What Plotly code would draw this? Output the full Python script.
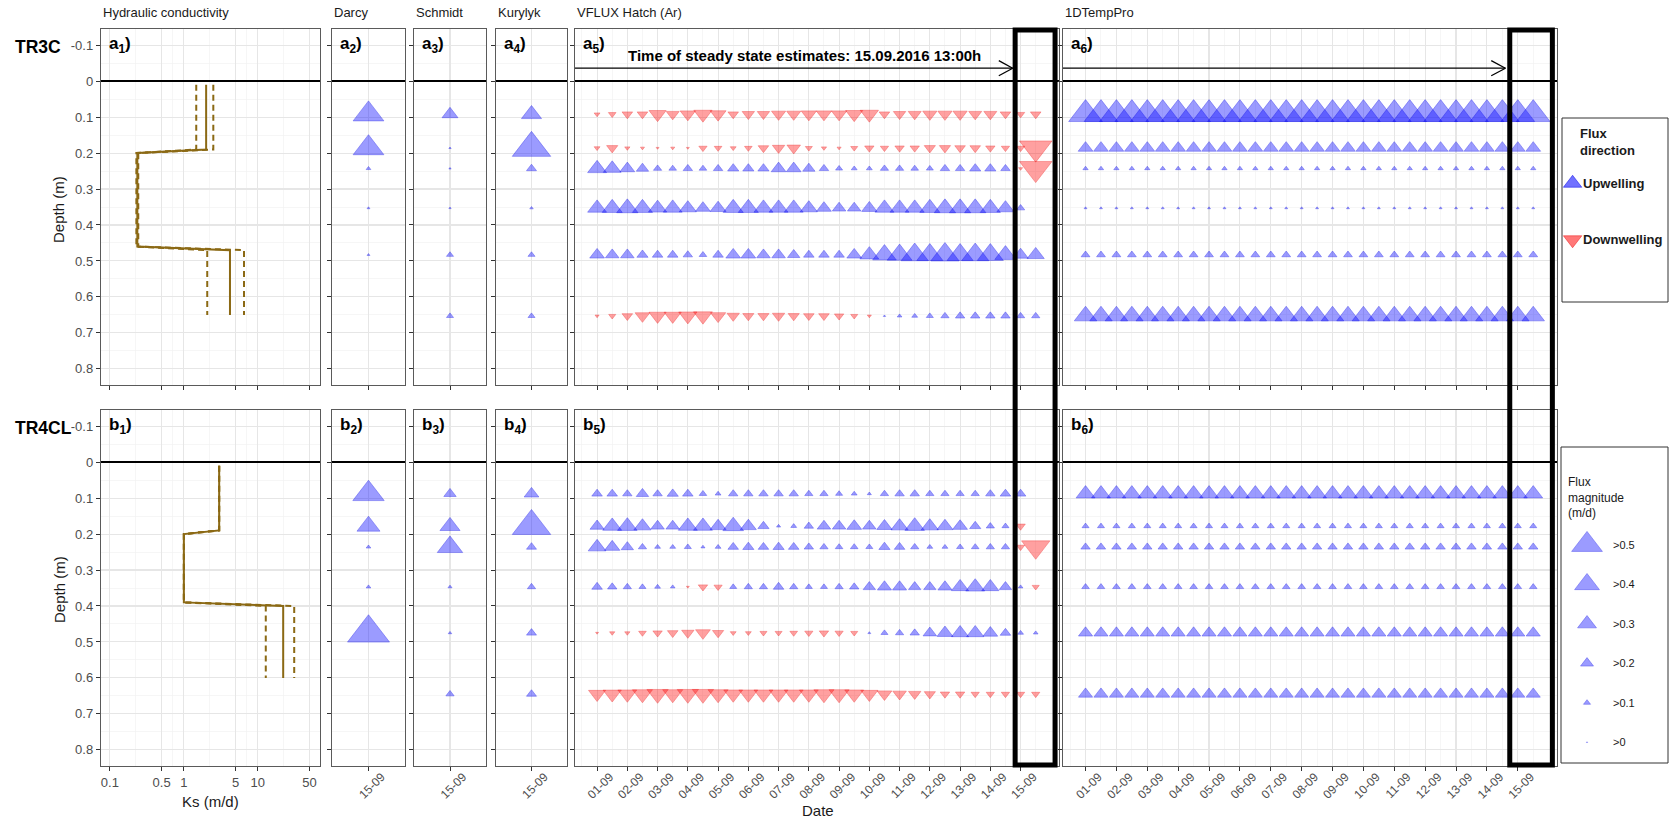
import plotly.graph_objects as go

W, H = 1669, 821
FONT = "Arial, Liberation Sans, sans-serif"

# ------------------------------------------------------------------ data
times = [1.0, 1.5, 2.0, 2.5, 3.0, 3.5, 4.0, 4.5, 5.0, 5.5, 6.0, 6.5, 7.0, 7.5, 8.0,
         8.5, 9.0, 9.5, 10.0, 10.5, 11.0, 11.5, 12.0, 12.5, 13.0, 13.5, 14.0, 14.5, 15.0, 15.5]
date_ticks = [1, 2, 3, 4, 5, 6, 7, 8, 9, 10, 11, 12, 13, 14, 15]
date_labels = ["01-09", "02-09", "03-09", "04-09", "05-09", "06-09", "07-09", "08-09",
               "09-09", "10-09", "11-09", "12-09", "13-09", "14-09", "15-09"]
single_time = [1]
single_label = ["15-09"]

depth_ticks = [-0.1, 0, 0.1, 0.2, 0.3, 0.4, 0.5, 0.6, 0.7, 0.8]
depth_labels = ["-0.1", "0", "0.1", "0.2", "0.3", "0.4", "0.5", "0.6", "0.7", "0.8"]
ks_ticks = [0.1, 0.5, 1, 5, 10, 50]
ks_labels = ["0.1", "0.5", "1", "5", "10", "50"]

# sensor depths (m)
depth_tr3c = [0.092, 0.186, 0.243, 0.353, 0.483, 0.653]
depth_tr4cl = [0.088, 0.178, 0.236, 0.347, 0.475, 0.645]

# hydraulic conductivity profiles (m/d)
ks_depth_tr3c = [0.01, 0.19, 0.20, 0.46, 0.47, 0.65]
ks_tr3c = [2.0, 2.0, 0.235, 0.235, 4.2, 4.2]
ks_tr3c_lo = [1.47, 1.47, 0.228, 0.228, 2.07, 2.07]
ks_tr3c_hi = [2.5, 2.5, 0.242, 0.242, 6.5, 6.5]
ks_depth_tr4cl = [0.01, 0.19, 0.20, 0.39, 0.40, 0.60]
ks_tr4cl = [3.0, 3.0, 1.0, 1.0, 22.0, 22.0]
ks_tr4cl_lo = [3.0, 3.0, 1.0, 1.0, 12.8, 12.8]
ks_tr4cl_hi = [3.0, 3.0, 1.0, 1.0, 31.0, 31.0]

# steady-state flux estimates (m/d, + upwelling, - downwelling), one per sensor depth
darcy_tr3c = [0.50, 0.50, 0.06, 0.03, 0.03, None]
schmidt_tr3c = [0.25, 0.02, 0.02, 0.02, 0.10, 0.10]
kurylyk_tr3c = [0.32, 0.63, 0.15, 0.04, 0.10, 0.10]
darcy_tr4cl = [0.51, 0.37, 0.06, 0.06, 0.69, None]
schmidt_tr4cl = [0.19, 0.32, 0.41, 0.05, 0.04, 0.12]
kurylyk_tr4cl = [0.23, 0.63, 0.15, 0.12, 0.15, 0.15]

# VFLUX Hatch (Ar) time series, TR3C
vflux_tr3c_1 = [-0.08, -0.11, -0.16, -0.16, -0.27, -0.20, -0.24, -0.29, -0.25, -0.16, -0.19, -0.19, -0.22, -0.22, -0.24,
                -0.24, -0.24, -0.27, -0.29, -0.16, -0.19, -0.20, -0.22, -0.22, -0.22, -0.20, -0.20, -0.16, -0.12, -0.16]
vflux_tr3c_2 = [-0.08, -0.17, -0.07, -0.05, -0.03, -0.05, -0.03, -0.12, -0.11, -0.08, -0.11, -0.16, -0.19, -0.21, -0.10,
                -0.07, -0.05, -0.10, -0.14, -0.12, -0.14, -0.14, -0.17, -0.17, -0.16, -0.16, -0.14, -0.12, -0.12, -0.53]
vflux_tr3c_3 = [0.30, 0.28, 0.23, 0.19, 0.12, 0.11, 0.14, 0.11, 0.14, 0.17, 0.17, 0.17, 0.23, 0.23, 0.19,
                0.14, 0.10, 0.08, 0.08, 0.12, 0.12, 0.11, 0.10, 0.14, 0.14, 0.17, 0.17, 0.14, -0.05, -0.53]
vflux_tr3c_4 = [0.30, 0.32, 0.34, 0.32, 0.29, 0.30, 0.27, 0.23, 0.25, 0.32, 0.32, 0.30, 0.30, 0.30, 0.27,
                0.23, 0.21, 0.21, 0.24, 0.30, 0.30, 0.30, 0.32, 0.34, 0.34, 0.34, 0.32, 0.27, 0.12, None]
vflux_tr3c_5 = [0.23, 0.21, 0.21, 0.17, 0.16, 0.16, 0.14, 0.11, 0.16, 0.23, 0.23, 0.21, 0.21, 0.19, 0.16,
                0.16, 0.16, 0.23, 0.30, 0.38, 0.40, 0.44, 0.42, 0.46, 0.42, 0.44, 0.42, 0.34, 0.24, 0.27]
vflux_tr3c_6 = [-0.05, -0.10, -0.16, -0.23, -0.27, -0.27, -0.29, -0.30, -0.24, -0.19, -0.17, -0.17, -0.19, -0.17, -0.16,
                -0.16, -0.14, -0.10, -0.05, 0.02, 0.06, 0.08, 0.10, 0.12, 0.14, 0.14, 0.14, 0.14, 0.12, 0.12]

# VFLUX Hatch (Ar) time series, TR4CL
vflux_tr4cl_1 = [0.16, 0.16, 0.14, 0.19, 0.14, 0.17, 0.16, 0.11, 0.08, 0.14, 0.14, 0.14, 0.14, 0.14, 0.12,
                 0.12, 0.10, 0.08, 0.05, 0.12, 0.14, 0.14, 0.12, 0.12, 0.12, 0.12, 0.14, 0.16, 0.16, None]
vflux_tr4cl_2 = [0.22, 0.30, 0.31, 0.27, 0.21, 0.21, 0.30, 0.30, 0.25, 0.33, 0.25, 0.17, 0.05, 0.08, 0.14,
                 0.21, 0.21, 0.23, 0.21, 0.24, 0.27, 0.31, 0.27, 0.25, 0.23, 0.17, 0.12, 0.10, -0.14, None]
vflux_tr4cl_3 = [0.28, 0.24, 0.19, 0.12, 0.08, 0.08, 0.10, 0.05, 0.08, 0.16, 0.17, 0.16, 0.17, 0.16, 0.14,
                 0.12, 0.11, 0.11, 0.10, 0.17, 0.16, 0.12, 0.08, 0.08, 0.10, 0.11, 0.12, 0.12, -0.12, -0.46]
vflux_tr4cl_4 = [0.16, 0.14, 0.12, 0.10, 0.08, 0.06, -0.03, -0.14, -0.12, 0.10, 0.12, 0.12, 0.16, 0.12, 0.10,
                 0.10, 0.12, 0.14, 0.19, 0.22, 0.22, 0.19, 0.19, 0.22, 0.27, 0.30, 0.27, 0.19, 0.06, -0.10]
vflux_tr4cl_5 = [-0.03, -0.07, -0.07, -0.11, -0.14, -0.16, -0.19, -0.23, -0.17, -0.08, -0.08, -0.10, -0.10, -0.11, -0.12,
                 -0.14, -0.12, -0.10, 0.03, 0.10, 0.12, 0.14, 0.21, 0.25, 0.27, 0.27, 0.23, 0.16, 0.08, 0.06]
vflux_tr4cl_6 = [-0.27, -0.29, -0.30, -0.32, -0.34, -0.32, -0.34, -0.34, -0.32, -0.30, -0.30, -0.30, -0.30, -0.30, -0.30,
                 -0.32, -0.32, -0.30, -0.27, -0.23, -0.21, -0.19, -0.17, -0.14, -0.14, -0.12, -0.12, -0.12, -0.12, -0.12]

# 1DTempPro time series, TR3C
temppro_tr3c_1 = [0.55, 0.55, 0.55, 0.55, 0.55, 0.55, 0.55, 0.55, 0.55, 0.55, 0.55, 0.55, 0.55, 0.55, 0.55,
                  0.55, 0.55, 0.55, 0.55, 0.55, 0.55, 0.55, 0.55, 0.55, 0.55, 0.55, 0.55, 0.55, 0.55, 0.55]
temppro_tr3c_2 = [0.23, 0.23, 0.23, 0.23, 0.23, 0.23, 0.23, 0.23, 0.23, 0.23, 0.23, 0.23, 0.23, 0.23, 0.23,
                  0.23, 0.23, 0.23, 0.23, 0.23, 0.23, 0.23, 0.23, 0.23, 0.23, 0.23, 0.23, 0.23, 0.23, 0.23]
temppro_tr3c_3 = [0.07, 0.07, 0.07, 0.07, 0.07, 0.07, 0.07, 0.07, 0.07, 0.07, 0.07, 0.07, 0.07, 0.07, 0.07,
                  0.07, 0.07, 0.07, 0.07, 0.07, 0.07, 0.07, 0.07, 0.07, 0.07, 0.07, 0.07, 0.07, 0.07, 0.07]
temppro_tr3c_4 = [0.03, 0.03, 0.03, 0.03, 0.03, 0.03, 0.03, 0.03, 0.03, 0.03, 0.03, 0.03, 0.03, 0.03, 0.03,
                  0.03, 0.03, 0.03, 0.03, 0.03, 0.03, 0.03, 0.03, 0.03, 0.03, 0.03, 0.03, 0.03, 0.03, 0.03]
temppro_tr3c_5 = [0.13, 0.13, 0.13, 0.13, 0.13, 0.13, 0.13, 0.13, 0.13, 0.13, 0.13, 0.13, 0.13, 0.13, 0.13,
                  0.13, 0.13, 0.13, 0.13, 0.13, 0.13, 0.13, 0.13, 0.13, 0.13, 0.13, 0.13, 0.13, 0.13, 0.13]
temppro_tr3c_6 = [0.36, 0.36, 0.36, 0.36, 0.36, 0.36, 0.36, 0.36, 0.36, 0.36, 0.36, 0.36, 0.36, 0.36, 0.36,
                  0.36, 0.36, 0.36, 0.36, 0.36, 0.36, 0.36, 0.36, 0.36, 0.36, 0.36, 0.36, 0.36, 0.36, 0.36]

# 1DTempPro time series, TR4CL
temppro_tr4cl_1 = [0.30, 0.30, 0.30, 0.30, 0.30, 0.30, 0.30, 0.30, 0.30, 0.30, 0.30, 0.30, 0.30, 0.30, 0.30,
                   0.30, 0.30, 0.30, 0.30, 0.30, 0.30, 0.30, 0.30, 0.30, 0.30, 0.30, 0.30, 0.30, 0.30, 0.30]
temppro_tr4cl_2 = [0.10, 0.10, 0.10, 0.10, 0.10, 0.10, 0.10, 0.10, 0.10, 0.10, 0.10, 0.10, 0.10, 0.10, 0.10,
                   0.10, 0.10, 0.10, 0.10, 0.10, 0.10, 0.10, 0.10, 0.10, 0.10, 0.10, 0.10, 0.10, 0.10, 0.10]
temppro_tr4cl_3 = [0.14, 0.14, 0.14, 0.14, 0.14, 0.14, 0.14, 0.14, 0.14, 0.14, 0.14, 0.14, 0.14, 0.14, 0.14,
                   0.14, 0.14, 0.14, 0.14, 0.14, 0.14, 0.14, 0.14, 0.14, 0.14, 0.14, 0.14, 0.14, 0.14, 0.14]
temppro_tr4cl_4 = [0.11, 0.11, 0.11, 0.11, 0.11, 0.11, 0.11, 0.11, 0.11, 0.11, 0.11, 0.11, 0.11, 0.11, 0.11,
                   0.11, 0.11, 0.11, 0.11, 0.11, 0.11, 0.11, 0.11, 0.11, 0.11, 0.11, 0.11, 0.11, 0.11, 0.11]
temppro_tr4cl_5 = [0.22, 0.22, 0.22, 0.22, 0.22, 0.22, 0.22, 0.22, 0.22, 0.22, 0.22, 0.22, 0.22, 0.22, 0.22,
                   0.22, 0.22, 0.22, 0.22, 0.22, 0.22, 0.22, 0.22, 0.22, 0.22, 0.22, 0.22, 0.22, 0.22, 0.22]
temppro_tr4cl_6 = [0.22, 0.22, 0.22, 0.22, 0.22, 0.22, 0.22, 0.22, 0.22, 0.22, 0.22, 0.22, 0.22, 0.22, 0.22,
                   0.22, 0.22, 0.22, 0.22, 0.22, 0.22, 0.22, 0.22, 0.22, 0.22, 0.22, 0.22, 0.22, 0.22, 0.22]

dir_labels = ["Upwelling", "Downwelling"]
mag_breaks = [0.5, 0.4, 0.3, 0.2, 0.1, 0.0]
mag_labels = [">0.5", ">0.4", ">0.3", ">0.2", ">0.1", ">0"]

steady_time = 14.82     # left edge of the steady-state window (days of September)
steady_text = "Time of steady state estimates: 15.09.2016 13:00h"

# ------------------------------------------------------------------ styling
UP_FILL, UP_LINE = "rgba(10,10,255,0.58)", "rgba(0,0,230,0.6)"
DN_FILL, DN_LINE = "rgba(255,15,15,0.56)", "rgba(235,0,0,0.55)"
KS_COL = "#8B6914"
GRID, GRID_MINOR = "#E6E6E6", "#F2F2F2"
BORDER = "#5A5A5A"
TICKC = "#4D4D4D"


def tri_size(v):
    # equilateral-triangle width (px) grows linearly with |flux|
    return (1.0 + 52.0 * abs(v)) * 1.14 / 1.1547


COLS = [(101, 320), (332, 405), (414, 486), (496, 567), (575, 1059), (1063, 1557)]
ROWS = [(29, 385), (410, 766)]
Y_RANGE = [0.845, -0.145]
T_RANGE = [0.27, 16.27]

fig = go.Figure()
layout = dict(width=W, height=H, margin=dict(l=0, r=0, t=0, b=0),
              paper_bgcolor="white", plot_bgcolor="white", showlegend=False,
              font=dict(family=FONT, color="#1A1A1A"))


def ax_name(i, kind):
    return kind if i == 1 else f"{kind}{i}"


minor_depth = [-0.15, -0.05, 0.05, 0.15, 0.25, 0.35, 0.45, 0.55, 0.65, 0.75, 0.85]
minor_time = [0.5, 1.5, 2.5, 3.5, 4.5, 5.5, 6.5, 7.5, 8.5, 9.5, 10.5, 11.5, 12.5, 13.5, 14.5, 15.5]
minor_ks = [0.2236, 0.7071, 2.236, 7.071, 22.36]

for r, (y0, y1) in enumerate(ROWS):
    for c, (x0, x1) in enumerate(COLS):
        i = r * 6 + c + 1
        xa = dict(domain=[x0 / W, x1 / W], anchor=ax_name(i, "y"), showline=True, mirror=True,
                  linecolor=BORDER, linewidth=1.2, ticks="outside", ticklen=4, tickwidth=1,
                  tickcolor="#333333", showgrid=True, gridcolor=GRID, gridwidth=1.1, zeroline=False,
                  tickfont=dict(size=12, color=TICKC, family=FONT), showticklabels=(r == 1),
                  fixedrange=True)
        if c == 0:
            xa.update(type="log", range=[-1.12, 1.84], tickmode="array", tickvals=ks_ticks,
                      ticktext=ks_labels, tickangle=0, tickfont=dict(size=13, color=TICKC, family=FONT),
                      minor=dict(tickvals=minor_ks, showgrid=True, gridcolor=GRID_MINOR,
                                 gridwidth=0.7, ticks=""))
        elif c < 4:
            xa.update(range=[0.4, 1.6], tickmode="array", tickvals=single_time, ticktext=single_label,
                      tickangle=-45, ticklabelshift=13, ticklabelstandoff=-6)
        else:
            xa.update(range=T_RANGE, tickmode="array", tickvals=date_ticks, ticktext=date_labels,
                      tickangle=-45, ticklabelshift=13, ticklabelstandoff=-6,
                      minor=dict(tickvals=minor_time, showgrid=True, gridcolor=GRID_MINOR,
                                 gridwidth=0.7, ticks=""))
        ya = dict(domain=[1 - y1 / H, 1 - y0 / H], anchor=ax_name(i, "x"), range=Y_RANGE,
                  showline=True, mirror=True, linecolor=BORDER, linewidth=1.2,
                  ticks="outside", ticklen=4, tickwidth=1, tickcolor="#333333",
                  tickmode="array", tickvals=depth_ticks, ticktext=depth_labels,
                  showticklabels=(c == 0), tickfont=dict(size=13, color=TICKC, family=FONT),
                  showgrid=True, gridcolor=GRID, gridwidth=1.1,
                  zeroline=True, zerolinecolor="black", zerolinewidth=1.6, fixedrange=True,
                  minor=dict(tickvals=minor_depth, showgrid=True, gridcolor=GRID_MINOR,
                             gridwidth=0.7, ticks=""))
        layout["xaxis" if i == 1 else f"xaxis{i}"] = xa
        layout["yaxis" if i == 1 else f"yaxis{i}"] = ya


def add_flux(i, xs, depths, vals):
    for sign, sym, fill, line in ((1, "triangle-up", UP_FILL, UP_LINE),
                                  (-1, "triangle-down", DN_FILL, DN_LINE)):
        px, py, ps = [], [], []
        for x, d, v in zip(xs, depths, vals):
            if v is None:
                continue
            if (v >= 0) == (sign > 0):
                px.append(x)
                py.append(d)
                ps.append(tri_size(v))
        if px:
            fig.add_trace(go.Scatter(x=px, y=py, mode="markers", xaxis=ax_name(i, "x"),
                                     yaxis=ax_name(i, "y"), hoverinfo="skip",
                                     marker=dict(symbol=sym, size=ps, color=fill,
                                                 line=dict(color=line, width=0.8))))


def add_ks(i, depths, ks, lo, hi):
    for arr, dash in ((lo, "6px,4px"), (hi, "6px,4px"), (ks, "solid")):
        fig.add_trace(go.Scatter(x=arr, y=depths, mode="lines", xaxis=ax_name(i, "x"),
                                 yaxis=ax_name(i, "y"), hoverinfo="skip",
                                 line=dict(color=KS_COL, width=2, dash=dash)))


add_ks(1, ks_depth_tr3c, ks_tr3c, ks_tr3c_lo, ks_tr3c_hi)
add_ks(7, ks_depth_tr4cl, ks_tr4cl, ks_tr4cl_lo, ks_tr4cl_hi)

for i, vals, depths in ((2, darcy_tr3c, depth_tr3c), (3, schmidt_tr3c, depth_tr3c),
                        (4, kurylyk_tr3c, depth_tr3c), (8, darcy_tr4cl, depth_tr4cl),
                        (9, schmidt_tr4cl, depth_tr4cl), (10, kurylyk_tr4cl, depth_tr4cl)):
    add_flux(i, single_time * len(depths), depths, vals)

series = {
    5: (depth_tr3c, [vflux_tr3c_1, vflux_tr3c_2, vflux_tr3c_3, vflux_tr3c_4, vflux_tr3c_5, vflux_tr3c_6]),
    6: (depth_tr3c, [temppro_tr3c_1, temppro_tr3c_2, temppro_tr3c_3, temppro_tr3c_4, temppro_tr3c_5,
                     temppro_tr3c_6]),
    11: (depth_tr4cl, [vflux_tr4cl_1, vflux_tr4cl_2, vflux_tr4cl_3, vflux_tr4cl_4, vflux_tr4cl_5,
                       vflux_tr4cl_6]),
    12: (depth_tr4cl, [temppro_tr4cl_1, temppro_tr4cl_2, temppro_tr4cl_3, temppro_tr4cl_4, temppro_tr4cl_5,
                       temppro_tr4cl_6]),
}
for i, (depths, rows) in series.items():
    xs, ds, vs = [], [], []
    for d, row in zip(depths, rows):
        xs += times
        ds += [d] * len(row)
        vs += row
    add_flux(i, xs, ds, vs)

# ------------------------------------------------------------------ legends (own axes)
layout["xaxis13"] = dict(domain=[1562 / W, 1668 / W], range=[0, 1], visible=False, fixedrange=True,
                         anchor="y13")
layout["yaxis13"] = dict(domain=[1 - 268 / H, 1 - 155 / H], range=[1.5, -0.5], visible=False,
                         fixedrange=True, anchor="x13")
layout["xaxis14"] = dict(domain=[1562 / W, 1668 / W], range=[0, 1], visible=False, fixedrange=True,
                         anchor="y14")
layout["yaxis14"] = dict(domain=[1 - 762 / H, 1 - 525 / H], range=[5.5, -0.5], visible=False,
                         fixedrange=True, anchor="x14")

fig.add_trace(go.Scatter(x=[0.1], y=[0], xaxis="x13", yaxis="y13", mode="markers", hoverinfo="skip",
                         marker=dict(symbol="triangle-up", size=16, color=UP_FILL,
                                     line=dict(color=UP_LINE, width=0.8))))
fig.add_trace(go.Scatter(x=[0.1], y=[1], xaxis="x13", yaxis="y13", mode="markers", hoverinfo="skip",
                         marker=dict(symbol="triangle-down", size=16, color=DN_FILL,
                                     line=dict(color=DN_LINE, width=0.8))))
fig.add_trace(go.Scatter(x=[0.236] * len(mag_breaks), y=list(range(len(mag_breaks))), xaxis="x14",
                         yaxis="y14", mode="markers", hoverinfo="skip",
                         marker=dict(symbol="triangle-up", size=[tri_size(b) for b in mag_breaks],
                                     color=UP_FILL, line=dict(color=UP_LINE, width=0.8))))

ann = []
for k, lab in enumerate(dir_labels):
    ann.append(dict(x=1581 / W, y=1 - (183 + 57 * k) / H, xref="paper", yref="paper",
                    text=f"<b>{lab}</b>", showarrow=False, xanchor="left", yanchor="middle",
                    font=dict(size=13, color="#1A1A1A")))
for k, lab in enumerate(mag_labels):
    ann.append(dict(x=0.46, y=k, xref="x14", yref="y14", text=lab, showarrow=False,
                    xanchor="left", yanchor="middle", font=dict(size=11, color="#1A1A1A")))
ann.append(dict(x=1578 / W, y=1 - 124 / H, xref="paper", yref="paper", text="<b>Flux<br>direction</b>",
                showarrow=False, xanchor="left", yanchor="top", align="left",
                font=dict(size=13, color="#1A1A1A")))
ann.append(dict(x=1566 / W, y=1 - 473 / H, xref="paper", yref="paper", text="Flux<br>magnitude<br>(m/d)",
                showarrow=False, xanchor="left", yanchor="top", align="left",
                font=dict(size=12, color="#1A1A1A")))

# panel titles
for (x0, _), t in zip(COLS, ["Hydraulic conductivity", "Darcy", "Schmidt", "Kurylyk",
                             "VFLUX Hatch (Ar)", "1DTempPro"]):
    ann.append(dict(x=x0 / W, y=1 - 13 / H, xref="paper", yref="paper", text=t, showarrow=False,
                    xanchor="left", yanchor="middle", font=dict(size=13, color="#1A1A1A")))
# row labels
for y, t in ((47, "TR3C"), (428, "TR4CL")):
    ann.append(dict(x=13 / W, y=1 - y / H, xref="paper", yref="paper", text=f"<b>{t}</b>",
                    showarrow=False, xanchor="left", yanchor="middle",
                    font=dict(size=17.5, color="black")))
# panel letters
for r, letter in enumerate("ab"):
    for c in range(6):
        i = r * 6 + c + 1
        ann.append(dict(x=0, y=-0.1, xref=f"{ax_name(i, 'x')} domain", yref=ax_name(i, "y"),
                        xshift=6, text=f"<b>{letter}<sub>{c + 1}</sub>)</b>", showarrow=False,
                        xanchor="left", yanchor="middle", font=dict(size=17, color="black")))
# axis titles
for y in (210, 590):
    ann.append(dict(x=59 / W, y=1 - y / H, xref="paper", yref="paper", text="Depth (m)", textangle=-90,
                    showarrow=False, xanchor="center", yanchor="middle",
                    font=dict(size=15, color="#1A1A1A")))
ann.append(dict(x=210 / W, y=1 - 801 / H, xref="paper", yref="paper", text="Ks (m/d)", showarrow=False,
                xanchor="center", yanchor="middle", font=dict(size=15, color="#1A1A1A")))
ann.append(dict(x=818 / W, y=1 - 810 / H, xref="paper", yref="paper", text="Date", showarrow=False,
                xanchor="center", yanchor="middle", font=dict(size=15, color="#1A1A1A")))
ann.append(dict(x=7.86, y=-0.072, xref="x5", yref="y5", text=f"<b>{steady_text}</b>", showarrow=False,
                xanchor="center", yanchor="middle", font=dict(size=15, color="black")))
layout["annotations"] = ann

# ------------------------------------------------------------------ shapes
shapes = []
# legend boxes
shapes.append(dict(type="rect", xref="paper", yref="paper", x0=1562 / W, x1=1668 / W,
                   y0=1 - 302 / H, y1=1 - 118 / H, line=dict(color="#333333", width=1)))
shapes.append(dict(type="rect", xref="paper", yref="paper", x0=1561 / W, x1=1668 / W,
                   y0=1 - 763 / H, y1=1 - 447 / H, line=dict(color="#333333", width=1)))
# steady-state windows spanning both rows
for xr, xa0, xa1 in (("x5", steady_time, 16.14), ("x6", 14.74, 16.12)):
    shapes.append(dict(type="rect", xref=xr, yref="paper", x0=xa0, x1=xa1, y0=1 - 765 / H, y1=1 - 30 / H,
                       line=dict(color="black", width=5)))
# arrows towards the window (top row)
for xr, yr, tip in (("x5", "y5", 14.74), ("x6", "y6", 14.6)):
    ya = -0.036
    shapes.append(dict(type="line", xref=xr, yref=yr, x0=T_RANGE[0], x1=tip, y0=ya, y1=ya,
                       line=dict(color="black", width=1.3)))
    for dy in (-0.021, 0.021):
        shapes.append(dict(type="line", xref=xr, yref=yr, x0=tip - 0.46, x1=tip, y0=ya + dy, y1=ya,
                           line=dict(color="black", width=1.3)))
layout["shapes"] = shapes

fig.update_layout(**layout)
fig.write_html("out.html", config={"displayModeBar": False, "staticPlot": True},
               post_script="document.body.style.margin='0px';document.body.style.overflow='hidden';")
